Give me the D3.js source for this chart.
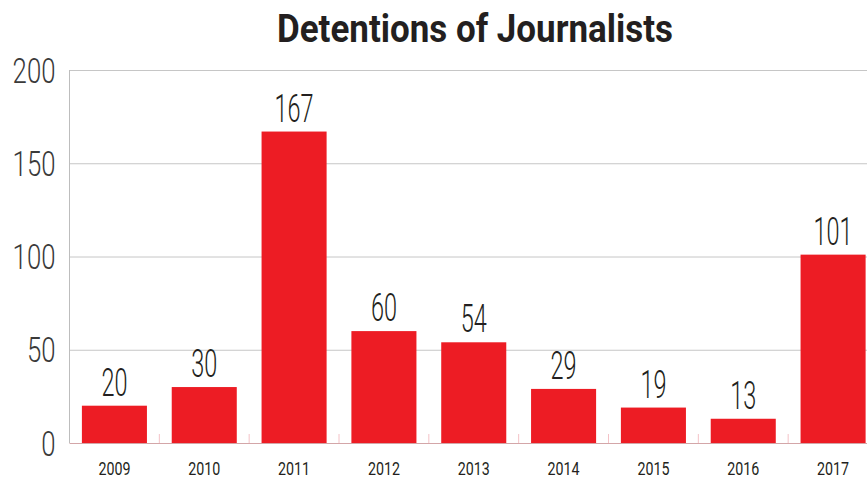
<!DOCTYPE html>
<html>
<head>
<meta charset="utf-8">
<script src="https://cdn.jsdelivr.net/npm/d3@7"></script>
<style>
  body { margin: 0; background: #fff; }
  svg { display: block; }
  text { font-family: Roboto, "DejaVu Sans Condensed", sans-serif; }
</style>
</head>
<body>
<svg id="chart"></svg>
<script>
const years = ['2009', '2010', '2011', '2012', '2013', '2014', '2015', '2016', '2017']
const detentions = [20, 30, 167, 60, 54, 29, 19, 13, 101]
const yTicks = [0, 50, 100, 150, 200]

const width = 867
const height = 479
const margin = {top: 70, right: -11, bottom: 36, left: 69.5}
const innerWidth = width - margin.left - margin.right
const innerHeight = height - margin.top - margin.bottom

const svg = d3.select('#chart').attr('width', width).attr('height', height)

svg.append('text')
    .attr('x', 475)
    .attr('y', 42)
    .attr('text-anchor', 'middle')
    .attr('font-size', 38)
    .attr('font-weight', 'bold')
    .attr('fill', '#231f20')
    .attr('textLength', 396)
    .attr('lengthAdjust', 'spacingAndGlyphs')
    .text('Detentions of Journalists')

const g = svg.append('g').attr('transform', `translate(${margin.left},${margin.top})`)

const x = d3.scaleBand()
    .domain(years)
    .range([0, innerWidth])
    .paddingInner(0.276)
    .paddingOuter(0.138)

const y = d3.scaleLinear()
    .domain([0, 200])
    .range([innerHeight, 0])

// squeeze digits so they look like the condensed face of the original
const squeeze = (sel, perDigit) => sel
    .attr('textLength', d => String(d).length * perDigit)
    .attr('lengthAdjust', 'spacingAndGlyphs')

// gridlines
g.selectAll('.grid')
    .data(yTicks.filter(d => d > 0))
    .join('line')
    .attr('class', 'grid')
    .attr('x1', 0)
    .attr('x2', width)
    .attr('y1', d => y(d) + 0.5)
    .attr('y2', d => y(d) + 0.5)
    .attr('stroke', '#c6c6c6')
    .attr('stroke-width', 1)

// y axis line
g.append('line')
    .attr('x1', 0).attr('x2', 0)
    .attr('y1', y(200)).attr('y2', y(0))
    .attr('stroke', '#bdbdbd')

// y labels
g.selectAll('.ylab')
    .data(yTicks)
    .join('text')
    .attr('class', 'ylab')
    .attr('x', -14)
    .attr('y', d => y(d))
    .attr('dy', '0.36em')
    .attr('text-anchor', 'end')
    .attr('font-size', 35)
    .attr('font-weight', 300)
    .attr('fill', '#3a3a3a')
    .text(d => d)
    .call(squeeze, 14.3)

// baseline ticks between categories
const step = x.step()
g.selectAll('.xtick')
    .data(years.slice(1))
    .join('line')
    .attr('class', 'xtick')
    .attr('x1', d => x(d) - step * x.paddingInner() / 2)
    .attr('x2', d => x(d) - step * x.paddingInner() / 2)
    .attr('y1', innerHeight - 9)
    .attr('y2', innerHeight)
    .attr('stroke', '#f4c2c7')

// bars
g.selectAll('.bar')
    .data(years)
    .join('rect')
    .attr('class', 'bar')
    .attr('x', d => x(d))
    .attr('width', x.bandwidth())
    .attr('y', (d, i) => y(detentions[i]))
    .attr('height', (d, i) => innerHeight - y(detentions[i]))
    .attr('fill', '#ed1c24')

// baseline
g.append('line')
    .attr('x1', 0).attr('x2', width)
    .attr('y1', innerHeight + 0.5).attr('y2', innerHeight + 0.5)
    .attr('stroke', '#d3a6a8')

// value labels
g.selectAll('.val')
    .data(detentions)
    .join('text')
    .attr('class', 'val')
    .attr('x', (d, i) => x(years[i]) + x.bandwidth() / 2)
    .attr('y', d => y(d) - 10)
    .attr('text-anchor', 'middle')
    .attr('font-size', 38)
    .attr('font-weight', 300)
    .attr('fill', '#231f20')
    .text(d => d)
    .call(squeeze, 13)

// x labels
g.selectAll('.xlab')
    .data(years)
    .join('text')
    .attr('class', 'xlab')
    .attr('x', d => x(d) + x.bandwidth() / 2)
    .attr('y', innerHeight + 32)
    .attr('text-anchor', 'middle')
    .attr('font-size', 18)
    .attr('fill', '#231f20')
    .text(d => d)
    .call(squeeze, 8)
</script>
</body>
</html>
